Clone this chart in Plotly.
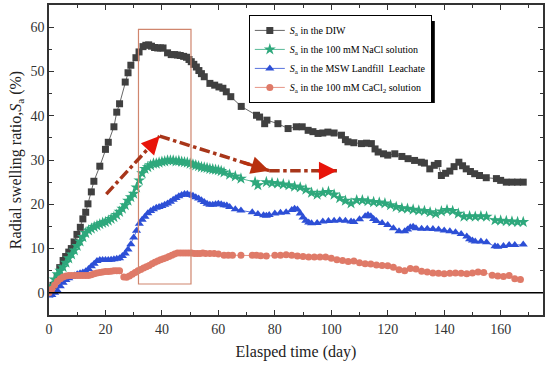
import plotly.graph_objects as go

# ---------------- data ----------------
diw_x = [0, 1.4, 2.9, 3.8, 5, 5.9, 7, 7.9, 8.9, 9.9, 11.1, 12, 13, 13.8, 15, 15.9, 18, 20, 21, 23, 24, 25, 27, 28, 29,
         30.8, 31.9, 33.3, 34.3, 35.3, 36.3, 37.4, 38.5, 39.5, 40.4, 42, 43.3, 44.5, 45.5, 46.5, 47.7, 48.7, 49.6, 50.4,
         51.3, 52.2, 53.1, 54, 55, 57, 58.7, 60.2, 61.6, 62.8, 64.4, 68.1, 73.5, 74.6, 76.4, 77.2, 81.1, 84.7, 87.6,
         89.7, 91.8, 93.5, 95.3, 97, 98.8, 101, 103.6, 105, 105.9, 108, 110.7, 112.5, 114.2, 115.5, 116.6, 118.5, 120,
         122.5, 125, 127.2, 129.5, 131.9, 133, 134.9, 136.5, 137.8, 139, 140.5, 142, 143.5, 145.2, 146.5, 147.8, 149.3,
         150.8, 152.5, 154.9, 158.5, 160, 162, 164, 166, 168]
diw_y = [0.5, 1.7, 3.7, 5.7, 7.3, 8.2, 9.2, 10, 11.5, 13.2, 14.8, 16.7, 18.2, 20.1, 22.8, 25.2, 28.6, 32.4, 34, 37.5,
         40.8, 42.7, 47.6, 49.7, 51.4, 53.1, 54.4, 55.6, 55.9, 56, 55.7, 55.4, 55.3, 55.3, 55.3, 54.2, 53.8, 53.8, 53.7,
         53.6, 53.4, 53.2, 52.7, 52.2, 51.6, 51, 50.2, 49.5, 48.8, 47.3, 46.9, 46.5, 46.2, 45.4, 44.3, 42.1, 40.1, 39.7,
         38.2, 39, 38.2, 37.1, 37.5, 37.5, 36.7, 36.4, 36, 36.1, 36.3, 36.1, 35.6, 34.6, 34.1, 33.9, 33.7, 33.8, 33.7,
         32.5, 31.8, 31.4, 31.1, 31.4, 30.8, 30.3, 29.9, 29.5, 29.3, 28, 28.8, 29.2, 26.5, 27, 27.5, 28.5, 29.5, 28.7,
         28, 27.4, 26.9, 26.5, 26, 25.8, 25.4, 25, 25, 25, 25]

nacl_x = [0, 1, 2, 3, 4, 5, 6, 7, 8, 9, 10, 11, 12, 13, 14, 15, 16, 17, 18, 19, 20, 21, 22, 23, 24, 25, 26, 27, 28, 29,
          30, 31, 32, 33, 34, 35, 36, 37, 38, 39, 40, 41, 42, 43, 44, 45, 46, 47, 48, 49, 50, 51, 52, 53, 54, 55, 56,
          57, 58, 59, 60, 61, 62, 64, 66, 68, 73, 74, 77, 79, 81, 83, 85, 87, 89, 91, 93, 95, 97, 99, 101, 103, 105,
          107, 109, 111, 113, 115, 117, 119, 121, 123, 125, 127, 129, 131, 133, 135, 137, 139, 141, 143, 145, 147,
          149, 151, 153, 155, 158, 160, 162, 164, 166, 168]
nacl_y = [0, 1.5, 3, 4.2, 5, 5.8, 6.8, 7.8, 8.7, 9.6, 10.6, 11.6, 12.6, 13.5, 14.1, 14.5, 14.9, 15.2, 15.5, 15.8, 16,
          16.3, 16.7, 17.1, 17.6, 18.3, 19, 19.8, 20.8, 21.6, 22.4, 23.8, 25.4, 27, 28, 28.4, 28.8, 29.2, 29.2, 29.4,
          29.6, 29.7, 29.9, 29.9, 29.9, 29.7, 29.8, 29.6, 29.5, 29.4, 29.2, 29, 28.8, 28.6, 28.4, 28.3, 28.2, 28, 27.9,
          27.8, 27.7, 27.5, 27.2, 26.7, 26.3, 25.8, 25, 24.3, 25, 24.8, 24.7, 24.5, 24.3, 24, 23.8, 23.3, 22.6, 22.2,
          22.6, 22.8, 22.2, 21.4, 20.8, 20.2, 20.9, 20.9, 20.7, 20.5, 20.4, 20.2, 19.8, 19.4, 19.1, 19, 18.8, 18.6,
          18.5, 18.2, 17.9, 18.4, 18.7, 18.5, 17.9, 17.2, 17.3, 17.2, 17.3, 17.2, 16.4, 16.3, 16.2, 16.1, 16, 16]

msw_x = [0, 1, 2, 3, 4, 5, 6, 7, 8, 9, 10, 11, 12, 13, 14, 15, 16, 17, 18, 19, 20, 21, 22, 23, 24, 25, 26, 27, 28, 29,
         30, 31, 32, 33, 34, 35, 36, 37, 38, 39, 40, 41, 42, 43, 44, 45, 46, 47, 48, 49, 50, 51, 52, 53, 54, 55, 56,
         57, 58, 59, 60, 61, 62, 63, 64, 66, 68, 72, 74, 76, 77, 78, 80, 82, 84, 86, 87, 88, 89, 90, 91, 92, 93, 95,
         97, 99, 101, 103, 105, 107, 108, 110, 112, 113, 114, 115, 116, 118, 120, 122, 124, 126, 127, 128, 129, 130,
         132, 134, 136, 138, 140, 142, 144, 146, 148, 149, 150, 151, 153, 155, 158, 159, 161, 163, 165, 168]
msw_y = [-0.6, -0.5, 0, 0.5, 1.5, 2.3, 2.9, 3.3, 3.6, 3.9, 4.2, 4.4, 4.6, 4.9, 5.4, 6, 6.6, 7.2, 7.4, 7.4, 7.4, 7.4,
         7.5, 7.6, 7.7, 7.8, 8.3, 8.9, 9.8, 11, 12.5, 14, 15.6, 16.5, 17.2, 18, 18.5, 18.9, 19.2, 19.4, 19.6, 19.9,
         20.2, 20.6, 21, 21.4, 21.8, 22.1, 22.3, 22.3, 22.1, 21.9, 21.6, 21.3, 20.9, 20.5, 20.1, 19.9, 19.9, 20, 20.1,
         20, 19.8, 19.7, 19.4, 18.9, 18.6, 18.2, 17.8, 17.5, 17.4, 17.6, 17.9, 18.1, 18.2, 18.7, 19, 18.8, 17.9, 17,
         16.3, 15.9, 15.7, 15.8, 16.1, 16.2, 16.3, 16.4, 16.3, 16.1, 16, 16.6, 17.3, 17.6, 17.3, 16.7, 16.2, 15.8,
         15.3, 14.6, 13.9, 13.9, 14.3, 14.8, 14.9, 14.6, 14.5, 14.5, 14.4, 14.3, 14.1, 13.9, 13.7, 13.3, 12.7, 12.1,
         11.8, 11.6, 11.6, 11.4, 10.5, 10.4, 10.6, 10.8, 10.8, 10.9]

cacl_x = [0, 1, 2, 3, 4, 5, 6, 7, 8, 9, 10, 11, 12, 13, 14, 15, 16, 17, 18, 19, 20, 21, 22, 23, 24, 25, 26.5, 27.5,
          28.5, 29.5, 30.5, 31.5, 32.5, 33.5, 34.5, 35.5, 36.5, 37.5, 38.5, 39.5, 40.5, 41.5, 42.5, 43.5, 44.5, 45.5,
          46.5, 47.5, 48.5, 49.5, 50.5, 51.5, 52.5, 53.5, 54.5, 55.5, 57, 58.5, 60, 62, 63.5, 65, 68, 72, 73.5, 75, 77,
          80, 82, 84, 86, 88, 90, 92, 94, 96, 98, 100, 102, 104, 106, 108, 110, 112, 114, 116, 118, 120, 122, 124, 126,
          128, 130, 132, 134, 136, 138, 140, 142, 144, 146, 148, 150, 152, 154, 157, 159, 161, 163, 165, 167]
cacl_y = [0, 0.8, 1.8, 2.6, 3.2, 3.6, 3.8, 3.9, 3.9, 3.9, 3.9, 3.9, 3.9, 3.9, 3.9, 4.1, 4.3, 4.5, 4.6, 4.7, 4.8, 4.8,
          4.9, 5, 5, 5, 3.6, 3.5, 3.8, 4.2, 4.6, 5, 5.3, 5.6, 5.9, 6.2, 6.6, 6.9, 7.2, 7.5, 7.7, 7.9, 8.2, 8.5, 8.8,
          9, 9, 9, 9, 9, 9, 8.9, 8.9, 8.9, 9, 8.9, 8.9, 8.9, 8.8, 8.5, 8.5, 8.5, 8.5, 8.5, 8.5, 8.4, 8.3, 8.5, 8.5,
          8.6, 8.5, 8.3, 8.2, 8.1, 8.1, 8.1, 8.1, 7.8, 7.5, 7.3, 7.1, 7.2, 6.8, 6.6, 6.5, 6.3, 6.2, 6.1, 5.8, 5.2, 5,
          5.5, 5.4, 4.9, 4.7, 4.5, 4.4, 4.3, 4.4, 4.5, 4.4, 4.3, 4.5, 4.7, 4.6, 4, 3.8, 3.7, 3.9, 3.2, 3]

names = ["<i>S</i><sub>a</sub> in the DIW",
         "<i>S</i><sub>a</sub> in the 100 mM NaCl solution",
         "<i>S</i><sub>a</sub> in the MSW Landfill  Leachate",
         "<i>S</i><sub>a</sub> in the 100 mM CaCl<sub>2</sub> solution"]

x_ticks = [0, 20, 40, 60, 80, 100, 120, 140, 160]
y_ticks = [0, 10, 20, 30, 40, 50, 60]

# annotation geometry (trend arrows, highlight box)
trend_x = [20.3, 39.2, 78, 102]
trend_y = [22.3, 35.4, 27.6, 27.6]
box_x = [31.7, 50.3]
box_y = [2, 59.5]

FONT = "Times New Roman, Liberation Serif, serif"
fig = go.Figure()

series = [
    (diw_x, diw_y, "#404040", "square", 7),
    (nacl_x, nacl_y, "#2ea87c", "star", 9),
    (msw_x, msw_y, "#2d4fd6", "triangle-up", 8),
    (cacl_x, cacl_y, "#df7a68", "circle", 7),
]
for (xs, ys, col, sym, sz), nm in zip(series, names):
    fig.add_trace(go.Scatter(x=xs, y=ys, mode="lines+markers", name=nm,
                             line=dict(color=col, width=0.8),
                             marker=dict(symbol=sym, size=sz, color=col, line=dict(width=0))))

shapes = []
# zero line
shapes.append(dict(type="line", xref="paper", yref="y", x0=0, x1=1, y0=0, y1=0,
                   line=dict(color="black", width=1.5)))
# highlight box
shapes.append(dict(type="rect", xref="x", yref="y", x0=box_x[0], x1=box_x[1], y0=box_y[0], y1=box_y[1],
                   line=dict(color="#d0866e", width=1.2)))
# dash-dot trend lines
for i in range(3):
    shapes.append(dict(type="line", xref="x", yref="y", x0=trend_x[i], y0=trend_y[i],
                       x1=trend_x[i + 1], y1=trend_y[i + 1],
                       line=dict(color="#a8361a", width=3.5, dash="dashdot")))
# legend shadow (paper coords, offset ~5px right/down from legend box)
shapes.append(dict(type="rect", xref="paper", yref="paper", x0=0.415, x1=0.781, y0=0.684, y1=0.948,
                   fillcolor="black", line=dict(width=0), layer="above"))
fig.update_layout(shapes=shapes)

annotations = []
head_cols = ["#e8140a", "#b8300e", "#e8140a"]
for i in range(3):
    dx = trend_x[i + 1] - trend_x[i]
    dy = trend_y[i + 1] - trend_y[i]
    f = 0.25 if i < 2 else 0.3
    annotations.append(dict(x=trend_x[i + 1], y=trend_y[i + 1], ax=trend_x[i + 1] - dx * f,
                            ay=trend_y[i + 1] - dy * f, xref="x", yref="y", axref="x", ayref="y",
                            showarrow=True, arrowhead=2, arrowsize=1.2, arrowwidth=3,
                            arrowcolor=head_cols[i], text=""))
fig.update_layout(annotations=annotations)

axis_common = dict(showline=True, linecolor="#333333", linewidth=1.5, mirror="allticks",
                   ticks="inside", ticklen=5, tickwidth=1.2, tickcolor="#333333",
                   showgrid=False, zeroline=False, automargin=False,
                   tickfont=dict(family=FONT, size=14, color="#333333"))
fig.update_xaxes(range=[0, 175], tickvals=x_ticks,
                 minor=dict(ticks="inside", dtick=10, tick0=0, ticklen=3, tickcolor="#333333"),
                 title=dict(text="Elasped time (day)", font=dict(family=FONT, size=16, color="#222222"),
                            standoff=10),
                 **axis_common)
fig.update_yaxes(range=[-5, 65], tickvals=y_ticks,
                 minor=dict(ticks="inside", dtick=5, tick0=0, ticklen=3, tickcolor="#333333"),
                 title=dict(text="Radial swelling ratio,<i>S</i><sub>a</sub> (%)",
                            font=dict(family=FONT, size=16, color="#222222"), standoff=5),
                 **axis_common)

fig.update_layout(
    width=550, height=366,
    margin=dict(l=49, r=7, t=5, b=51),
    paper_bgcolor="white", plot_bgcolor="white",
    legend=dict(x=0.4045, y=0.968, xanchor="left", yanchor="top",
                bgcolor="white", bordercolor="black", borderwidth=1,
                font=dict(family=FONT, size=10, color="black"),
                tracegroupgap=0, itemwidth=30),
    font=dict(family=FONT),
)

fig.write_html("out.html", config={"displayModeBar": False},
               post_script="document.body.style.margin='0px';")
